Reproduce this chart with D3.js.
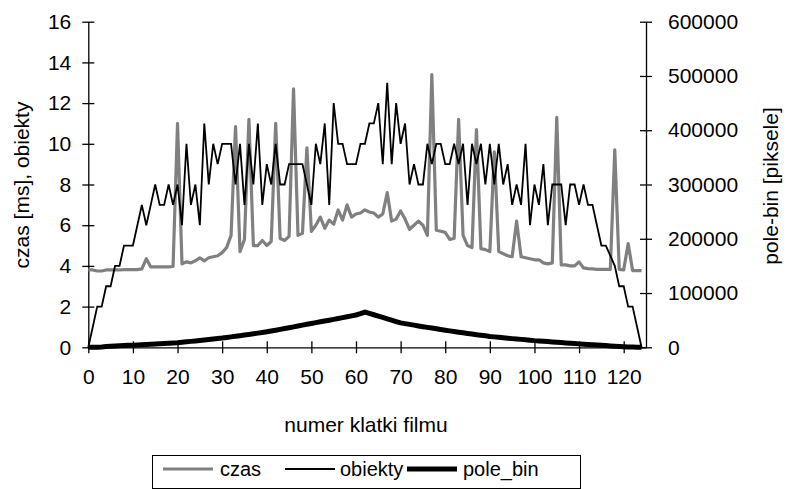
<!DOCTYPE html>
<html>
<head>
<meta charset="utf-8">
<script src="https://cdn.jsdelivr.net/npm/d3@7"></script>
<style>
  body { margin: 0; background: #fff; }
  svg { display: block; font-family: 'Liberation Sans', Arial, sans-serif; }
</style>
</head>
<body>
<svg width="789" height="489"></svg>
<script>
// czas [ms] per frame (0..124)
const czas = [
  3.8, 3.8, 3.75, 3.75, 3.8, 3.8, 3.8, 3.8, 3.82, 3.82,
  3.82, 3.82, 3.85, 4.35, 3.95, 3.95, 3.95, 3.95, 3.95, 3.97,
  11.0, 4.1, 4.2, 4.15, 4.25, 4.4, 4.25, 4.4, 4.45, 4.5,
  4.65, 4.9, 5.5, 10.85, 4.7, 5.3, 11.2, 5.0, 5.0, 5.25,
  5.0, 5.2, 11.0, 5.35, 5.25, 5.45, 12.7, 5.5, 5.6, 9.8,
  5.7, 6.0, 6.4, 5.85, 6.25, 6.05, 6.75, 6.25, 7.0, 6.4,
  6.55, 6.6, 6.75, 6.65, 6.6, 6.4, 6.55, 7.6, 6.2, 6.3,
  6.7, 6.3, 5.8, 6.0, 6.2, 6.0, 5.5, 13.4, 5.75, 5.7,
  5.65, 5.3, 5.35, 11.2, 5.5, 5.0, 4.9, 10.7, 4.85, 4.8,
  4.7, 9.6, 4.7, 4.6, 4.5, 4.45, 6.2, 4.45, 4.4, 4.35,
  4.3, 4.3, 4.15, 4.1, 4.15, 11.3, 4.05, 4.05, 4.0, 4.0,
  4.2, 3.9, 3.87, 3.85, 3.83, 3.83, 3.83, 3.83, 9.7, 3.83,
  3.8, 5.1, 3.77, 3.77, 3.77
]

// liczba obiektow per frame
const obiekty = [
  0, 1, 2, 2, 3, 3, 4, 4, 5, 5,
  5, 6, 7, 6, 7, 8, 7, 7, 8, 7,
  8, 6, 10, 7, 8, 6, 11, 8, 10, 9,
  10, 10, 10, 8, 10, 7, 10, 8, 11, 7,
  9, 8, 10, 8, 8, 9, 9, 9, 9, 8,
  7, 10, 9, 11, 7, 12, 10, 10, 9, 9,
  9, 10, 10, 11, 11, 12, 9, 13, 9, 12,
  10, 11, 8, 9, 8, 8, 10, 9, 10, 10,
  9, 9, 10, 9, 10, 7, 10, 9, 10, 8,
  10, 8, 10, 8, 9, 7, 8, 7, 10, 6,
  8, 7, 9, 6, 8, 8, 8, 6, 8, 8,
  7, 8, 7, 7, 6, 5, 5, 4.5, 4, 3,
  3, 2, 2, 1, 0
]

// pole_bin [piksele] per frame
const poleBin = [
  0, 0, 300, 700, 1300, 2000, 2400, 2800, 3200, 3600,
  4000, 4400, 4800, 5200, 5600, 6000, 6500, 7000, 7500, 8000,
  8500, 9300, 10100, 10900, 11700, 12500, 13400, 14300, 15200, 16100,
  17000, 18100, 19200, 20300, 21400, 22500, 23700, 24900, 26100, 27300,
  28500, 30000, 31500, 33000, 34500, 36000, 37600, 39200, 40800, 42400,
  44000, 45500, 47000, 48500, 50000, 51500, 53100, 54700, 56300, 57900,
  59500, 62000, 65000, 62500, 60000, 57500, 55000, 52500, 50000, 47500,
  45000, 43600, 42200, 40800, 39400, 38000, 36700, 35400, 34100, 32800,
  31500, 30300, 29100, 27900, 26700, 25500, 24400, 23300, 22200, 21100,
  20000, 19200, 18400, 17600, 16800, 16000, 15300, 14600, 13900, 13100,
  12300, 11700, 11100, 10500, 9900, 9300, 8700, 8100, 7500, 6900,
  6300, 5700, 5100, 4600, 4100, 3600, 3100, 2600, 2100, 1600,
  1100, 700, 400, 200, 0
]

const xTicks = [0, 10, 20, 30, 40, 50, 60, 70, 80, 90, 100, 110, 120]
const yLeftTicks = [0, 2, 4, 6, 8, 10, 12, 14, 16]
const yRightTicks = [0, 100000, 200000, 300000, 400000, 500000, 600000]

const svg = d3.select('svg')
const fontSize = 21
const legendFontSize = 20

const plotLeft = 88.3
const plotRight = 646
const plotTop = 21.7
const plotBottom = 347.3

const x = d3.scaleLinear().domain([0, 125]).range([plotLeft, plotRight])
const yL = d3.scaleLinear().domain([0, 16]).range([plotBottom, plotTop])
const yR = d3.scaleLinear().domain([0, 600000]).range([plotBottom, plotTop])

// axes, ticks crossing the axis line
function crossTicks (g, horizontal) {
  g.select('.domain').attr('stroke', '#000').attr('stroke-width', 1.3)
  g.selectAll('.tick line')
    .attr('stroke', '#000')
    .attr('stroke-width', 1.3)
    .attr(horizontal ? 'y1' : 'x1', -6)
    .attr(horizontal ? 'y2' : 'x2', 6)
  g.selectAll('.tick text')
    .attr('fill', '#000')
    .style('font-size', fontSize + 'px')
    .style('font-family', "'Liberation Sans', Arial, sans-serif")
}

const gx = svg.append('g')
  .attr('transform', `translate(0,${plotBottom})`)
  .call(d3.axisBottom(x).tickValues(xTicks).tickSizeOuter(0).tickPadding(16))
crossTicks(gx, true)

const gyl = svg.append('g')
  .attr('transform', `translate(${plotLeft},0)`)
  .call(d3.axisLeft(yL).tickValues(yLeftTicks).tickSizeOuter(0).tickPadding(11))
crossTicks(gyl, false)

const gyr = svg.append('g')
  .attr('transform', `translate(${plotRight},0)`)
  .call(d3.axisRight(yR).tickValues(yRightTicks).tickFormat(d3.format('d')).tickSizeOuter(0).tickPadding(16))
crossTicks(gyr, false)

// series
const lineL = d3.line().x((d, i) => x(i)).y(d => yL(d))
const lineR = d3.line().x((d, i) => x(i)).y(d => yR(d))

svg.append('path')
  .datum(czas)
  .attr('fill', 'none')
  .attr('stroke', '#808080')
  .attr('stroke-width', 3.2)
  .attr('stroke-linejoin', 'round')
  .attr('d', lineL)

svg.append('path')
  .datum(obiekty)
  .attr('fill', 'none')
  .attr('stroke', '#000')
  .attr('stroke-width', 1.8)
  .attr('d', lineL)

svg.append('path')
  .datum(poleBin)
  .attr('fill', 'none')
  .attr('stroke', '#000')
  .attr('stroke-width', 5)
  .attr('stroke-linejoin', 'round')
  .attr('d', lineR)

// axis titles
svg.append('text')
  .attr('transform', 'translate(29,185) rotate(-90)')
  .attr('text-anchor', 'middle')
  .style('font-size', fontSize + 'px')
  .text('czas [ms], obiekty')

svg.append('text')
  .attr('transform', 'translate(778,186) rotate(-90)')
  .attr('text-anchor', 'middle')
  .style('font-size', fontSize + 'px')
  .text('pole-bin [piksele]')

svg.append('text')
  .attr('x', 366)
  .attr('y', 432)
  .attr('text-anchor', 'middle')
  .style('font-size', fontSize + 'px')
  .text('numer klatki filmu')

// legend
const legend = [
  { name: 'czas', color: '#808080', width: 3.2, lx: 163, tx: 220 },
  { name: 'obiekty', color: '#000', width: 1.8, lx: 285, tx: 340 },
  { name: 'pole_bin', color: '#000', width: 5, lx: 407, tx: 463 }
]

svg.append('rect')
  .attr('x', 152.5)
  .attr('y', 455.5)
  .attr('width', 428)
  .attr('height', 33)
  .attr('fill', '#fff')
  .attr('stroke', '#000')
  .attr('stroke-width', 1)

const li = svg.append('g').selectAll('g')
  .data(legend)
  .enter().append('g')

li.append('line')
  .attr('x1', d => d.lx)
  .attr('x2', d => d.lx + 50)
  .attr('y1', 469)
  .attr('y2', 469)
  .attr('stroke', d => d.color)
  .attr('stroke-width', d => d.width)

li.append('text')
  .attr('x', d => d.tx)
  .attr('y', 476)
  .style('font-size', legendFontSize + 'px')
  .text(d => d.name)
</script>
</body>
</html>
